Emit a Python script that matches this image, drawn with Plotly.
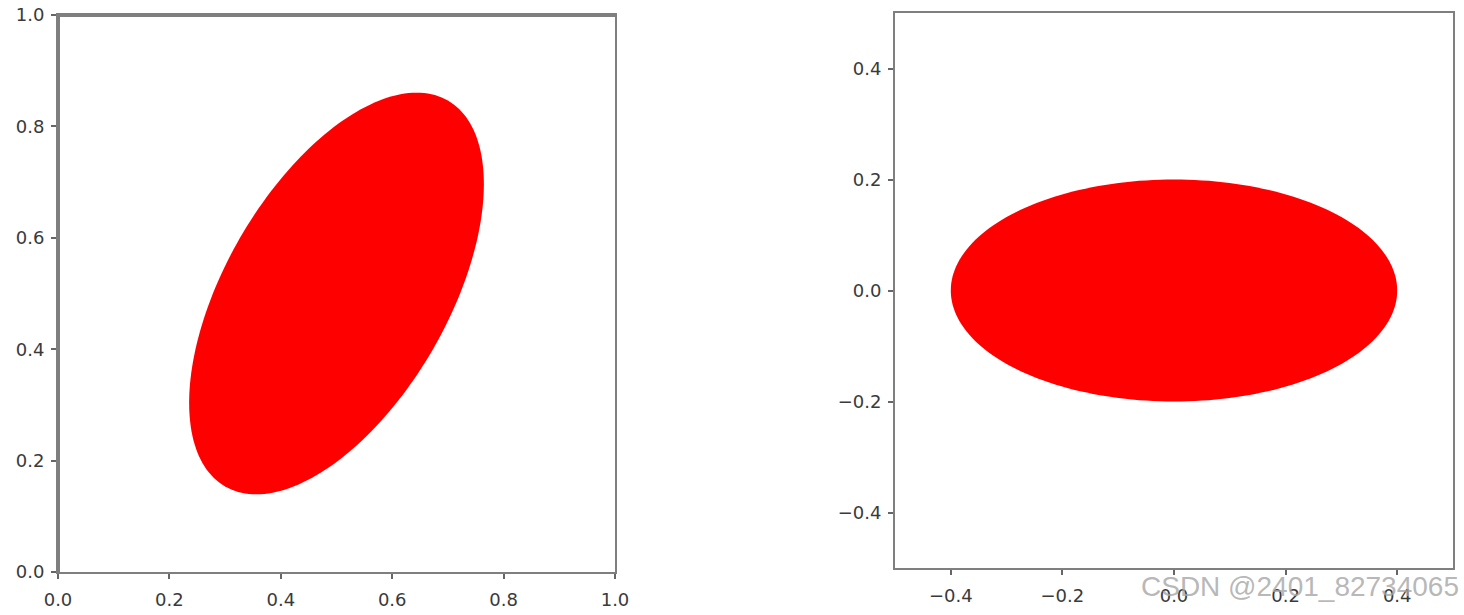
import numpy as np
import plotly.graph_objects as go

# Ellipse parameters: (center_x, center_y, width, height, angle_deg)
left_center = (0.5, 0.5)
left_width = 0.8
left_height = 0.4
left_angle = 60.0

right_center = (0.0, 0.0)
right_width = 0.8
right_height = 0.4
right_angle = 0.0

left_ticks = [0.0, 0.2, 0.4, 0.6, 0.8, 1.0]
left_ticklabels = ["0.0", "0.2", "0.4", "0.6", "0.8", "1.0"]
right_ticks = [-0.4, -0.2, 0.0, 0.2, 0.4]
right_ticklabels = ["\u22120.4", "\u22120.2", "0.0", "0.2", "0.4"]
left_range = [0, 1]
right_range = [-0.5, 0.5]

watermark = "CSDN @2401_82734065"


def ellipse_path(center, width, height, angle, n=200):
    t = np.linspace(0, 2 * np.pi, n, endpoint=False)
    a, b = width / 2, height / 2
    th = np.deg2rad(angle)
    x = center[0] + a * np.cos(t) * np.cos(th) - b * np.sin(t) * np.sin(th)
    y = center[1] + a * np.cos(t) * np.sin(th) + b * np.sin(t) * np.cos(th)
    pts = " L".join(f"{xi:.5f},{yi:.5f}" for xi, yi in zip(x, y))
    return "M" + pts + " Z"


W, H = 1464, 615
spine = "#7f7f7f"
tickfont = dict(family="DejaVu Sans", size=18, color="#3a3a3a")

fig = go.Figure()
fig.add_trace(go.Scatter(x=[None], y=[None], xaxis="x", yaxis="y", showlegend=False))
fig.add_trace(go.Scatter(x=[None], y=[None], xaxis="x2", yaxis="y2", showlegend=False))

ax_common = dict(showgrid=False, zeroline=False, showline=True, mirror=True,
                 linecolor=spine, linewidth=2, ticks="outside", ticklen=5,
                 tickwidth=1.5, tickcolor="#666666", tickfont=tickfont, fixedrange=True,
                 automargin=False)
x_extra = dict(ticklabelstandoff=5)
y_extra = dict(ticklabelstandoff=3)

l_x = [58 / W, 615 / W]
l_y = [1 - 572 / H, 1 - 15 / H]
r_x = [895 / W, 1453 / W]
r_y = [1 - 568 / H, 1 - 13 / H]

fig.update_layout(
    width=W, height=H, autosize=False,
    margin=dict(l=0, r=0, t=0, b=0),
    paper_bgcolor="white", plot_bgcolor="white",
    showlegend=False,
    xaxis=dict(domain=l_x, range=left_range, tickvals=left_ticks, ticktext=left_ticklabels,
               anchor="y", **ax_common, **x_extra),
    yaxis=dict(domain=l_y, range=left_range, tickvals=left_ticks, ticktext=left_ticklabels,
               anchor="x", **ax_common, **y_extra),
    xaxis2=dict(domain=r_x, range=right_range, tickvals=right_ticks, ticktext=right_ticklabels,
                anchor="y2", **ax_common, **x_extra),
    yaxis2=dict(domain=r_y, range=right_range, tickvals=right_ticks, ticktext=right_ticklabels,
                anchor="x2", **ax_common, **y_extra),
)

fig.add_shape(type="path", xref="x", yref="y",
              path=ellipse_path(left_center, left_width, left_height, left_angle),
              fillcolor="#ff0000", line=dict(width=0), layer="below")
fig.add_shape(type="path", xref="x2", yref="y2",
              path=ellipse_path(right_center, right_width, right_height, right_angle),
              fillcolor="#ff0000", line=dict(width=0), layer="below")

# thicker left/top spines on the left panel
fig.add_shape(type="line", xref="paper", yref="paper", x0=l_x[0], x1=l_x[0], y0=l_y[0], y1=l_y[1],
              line=dict(color=spine, width=4))
fig.add_shape(type="line", xref="paper", yref="paper", x0=l_x[0], x1=l_x[1], y0=l_y[1], y1=l_y[1],
              line=dict(color=spine, width=4))

fig.add_annotation(text=watermark, xref="paper", yref="paper", x=1461 / W, y=1 - 586 / H,
                   xanchor="right", yanchor="middle", showarrow=False,
                   font=dict(family="Liberation Sans", size=28, color="rgba(165,165,165,0.8)"))

fig.write_html("out.html", config={"displayModeBar": False},
               post_script="document.body.style.margin='0';")
